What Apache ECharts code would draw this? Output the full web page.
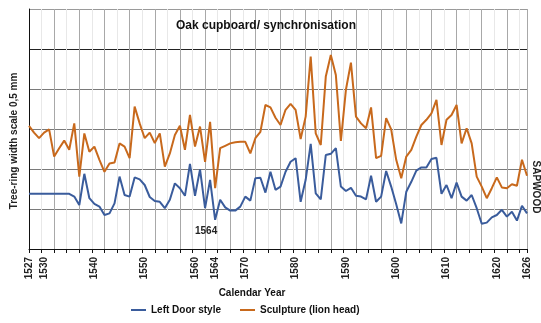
<!DOCTYPE html>
<html>
<head>
<meta charset="utf-8">
<script src="https://cdn.jsdelivr.net/npm/echarts@6/dist/echarts.min.js"></script>
<style>
  html, body { margin: 0; padding: 0; background: #fff; }
  #chart { width: 541px; height: 323px; }
</style>
</head>
<body>
<div id="chart"></div>
<script>
// years 1527..1626, one value per year
const firstYear = 1527
const lastYear = 1626
const years = []
for (let y = firstYear; y <= lastYear; y++) years.push(String(y))

const labelYears = [1527, 1530, 1540, 1550, 1560, 1564, 1570, 1580, 1590, 1600, 1610, 1620, 1626]

const leftDoor = [
  1.38, 1.38, 1.38, 1.38, 1.38, 1.38, 1.38, 1.38, 1.38, 1.31,
  1.10, 1.88, 1.27, 1.13, 1.06, 0.85, 0.89, 1.14, 1.81, 1.35,
  1.31, 1.79, 1.74, 1.60, 1.30, 1.20, 1.18, 1.02, 1.23, 1.64,
  1.52, 1.33, 2.13, 1.33, 1.99, 1.02, 1.73, 0.73, 1.23, 1.04,
  0.96, 0.96, 1.06, 1.31, 1.21, 1.77, 1.78, 1.41, 1.93, 1.48,
  1.56, 1.93, 2.18, 2.27, 1.18, 1.73, 2.63, 1.39, 1.24, 2.35,
  2.38, 2.52, 1.56, 1.45, 1.53, 1.33, 1.31, 1.24, 1.83, 1.18,
  1.31, 1.95, 1.56, 1.12, 0.64, 1.43, 1.68, 1.96, 2.04, 2.04,
  2.25, 2.28, 1.38, 1.60, 1.27, 1.66, 1.31, 1.21, 1.35, 1.02,
  0.63, 0.66, 0.79, 0.85, 0.98, 0.81, 0.93, 0.71, 1.08, 0.89
]

const sculpture = [
  3.08, 2.91, 2.77, 2.91, 2.99, 2.31, 2.52, 2.71, 2.48, 3.14,
  1.81, 2.89, 2.43, 2.56, 2.23, 1.93, 2.14, 2.16, 2.64, 2.56,
  2.27, 3.56, 3.14, 2.77, 2.91, 2.65, 2.89, 2.06, 2.39, 2.85,
  3.08, 2.48, 3.35, 2.56, 3.06, 2.18, 3.18, 1.52, 2.52, 2.58,
  2.64, 2.67, 2.68, 2.68, 2.39, 2.77, 2.93, 3.60, 3.54, 3.28,
  3.10, 3.48, 3.63, 3.48, 2.75, 3.31, 4.81, 2.89, 2.60, 4.31,
  4.85, 4.35, 2.70, 3.98, 4.66, 3.31, 3.14, 3.02, 3.54, 2.27,
  2.33, 3.27, 2.99, 2.23, 1.77, 2.31, 2.48, 2.81, 3.10, 3.23,
  3.39, 3.73, 2.60, 3.23, 3.35, 3.60, 2.64, 3.02, 2.64, 1.81,
  1.56, 1.27, 1.52, 1.79, 1.54, 1.52, 1.62, 1.58, 2.23, 1.83
]

const FONT = "'Liberation Sans', Arial, sans-serif"
const BLUE = "#3a5c9c"
const ORANGE = "#c8691c"

const chart = echarts.init(document.getElementById("chart"), null, { renderer: "canvas" })

chart.setOption({
  animation: false,
  backgroundColor: "#fff",
  textStyle: { fontFamily: FONT },
  title: [
    {
      text: "Oak cupboard/ synchronisation",
      left: 266, top: 20, padding: 0, textAlign: "center",
      textStyle: { fontSize: 12, fontWeight: "bold", color: "#111", fontFamily: FONT },
    },
    {
      text: "Calendar Year",
      left: 252, top: 288, padding: 0, textAlign: "center",
      textStyle: { fontSize: 10, fontWeight: "bold", color: "#111", fontFamily: FONT },
    },
  ],
  legend: {
    left: 131, top: 305, padding: 0,
    icon: "rect", itemWidth: 15, itemHeight: 2, itemGap: 19,
    textStyle: { fontSize: 10, fontWeight: "bold", color: "#111", fontFamily: FONT },
    data: ["Left Door style", "Sculpture (lion head)"],
  },
  grid: { left: 29, right: 14, top: 9, bottom: 74, containLabel: false },
  xAxis: [
    {
      type: "category",
      data: years,
      boundaryGap: false,
      axisLine: { show: false },
      axisTick: { show: false },
      splitLine: { show: false },
      axisLabel: {
        interval: (i, v) => labelYears.includes(Number(v)),
        rotate: 90,
        margin: 8,
        fontSize: 10,
        fontWeight: "bold",
        color: "#222",
        fontFamily: FONT,
      },
    },
    {
      type: "value",
      min: firstYear,
      max: lastYear,
      interval: 2.5,
      position: "bottom",
      axisLine: { show: true, lineStyle: { color: "#111", width: 1 } },
      axisTick: { show: true, length: 4, lineStyle: { color: "#111" } },
      axisLabel: { show: false },
      splitLine: { show: true, lineStyle: { color: ["#a8a8a8", "#e8e8e8"], width: 1 } },
    },
  ],
  yAxis: {
    type: "value",
    min: 0, max: 6, interval: 1,
    axisLine: { show: true, lineStyle: { color: "#111" } },
    axisTick: { show: false },
    axisLabel: { show: false },
    splitLine: {
      show: true,
      lineStyle: { color: ["#111", "#7a7a7a", "#7a7a7a", "#7a7a7a", "#7a7a7a", "#222", "#9a9a9a"] },
    },
  },
  graphic: [
    {
      type: "text", x: 14, y: 141, rotation: Math.PI / 2,
      style: {
        text: "Tree-ring width scale 0,5 mm",
        font: "bold 10px " + FONT, fill: "#222",
        textAlign: "center", textVerticalAlign: "middle",
      },
    },
    {
      type: "text", x: 536, y: 187, rotation: -Math.PI / 2,
      style: {
        text: "SAPWOOD",
        font: "bold 10px " + FONT, fill: "#222",
        textAlign: "center", textVerticalAlign: "middle",
      },
    },
  ],
  series: [
    {
      name: "Left Door style",
      type: "line",
      xAxisIndex: 0,
      data: leftDoor,
      showSymbol: false,
      lineStyle: { color: BLUE, width: 2 },
      itemStyle: { color: BLUE },
      markPoint: {
        symbol: "circle", symbolSize: 0,
        data: [{ coord: ["1564", leftDoor[37]] }],
        label: {
          show: true, formatter: "1564", position: "inside", offset: [-9, 11],
          fontSize: 10, fontWeight: "bold", color: "#222", fontFamily: FONT,
        },
      },
    },
    {
      name: "Sculpture (lion head)",
      type: "line",
      xAxisIndex: 0,
      data: sculpture,
      showSymbol: false,
      lineStyle: { color: ORANGE, width: 2 },
      itemStyle: { color: ORANGE },
    },
  ],
})
</script>
</body>
</html>
